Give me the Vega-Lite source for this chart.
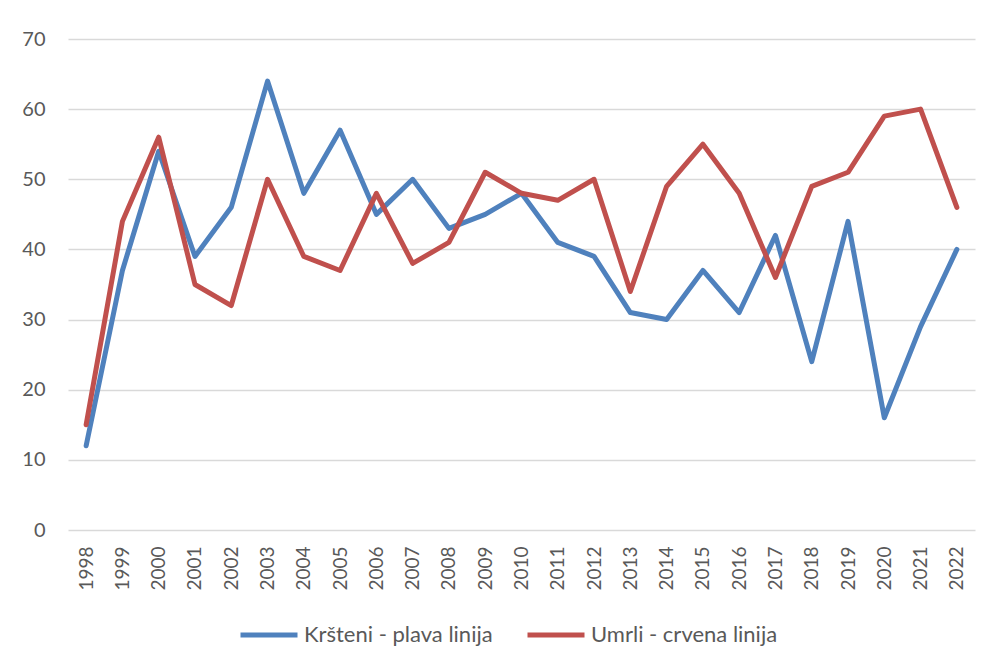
{
  "$schema": "https://vega.github.io/schema/vega-lite/v6.json",
  "autosize": "none",
  "width": 907,
  "height": 491,
  "padding": {"left": 68, "top": 39, "right": 12, "bottom": 135},
  "background": "white",
  "config": {
    "view": {"stroke": null},
    "font": "Lato"
  },
  "data": {
    "values": [
      {"year": "1998", "series": "Kršteni - plava linija", "value": 12},
      {"year": "1999", "series": "Kršteni - plava linija", "value": 37},
      {"year": "2000", "series": "Kršteni - plava linija", "value": 54},
      {"year": "2001", "series": "Kršteni - plava linija", "value": 39},
      {"year": "2002", "series": "Kršteni - plava linija", "value": 46},
      {"year": "2003", "series": "Kršteni - plava linija", "value": 64},
      {"year": "2004", "series": "Kršteni - plava linija", "value": 48},
      {"year": "2005", "series": "Kršteni - plava linija", "value": 57},
      {"year": "2006", "series": "Kršteni - plava linija", "value": 45},
      {"year": "2007", "series": "Kršteni - plava linija", "value": 50},
      {"year": "2008", "series": "Kršteni - plava linija", "value": 43},
      {"year": "2009", "series": "Kršteni - plava linija", "value": 45},
      {"year": "2010", "series": "Kršteni - plava linija", "value": 48},
      {"year": "2011", "series": "Kršteni - plava linija", "value": 41},
      {"year": "2012", "series": "Kršteni - plava linija", "value": 39},
      {"year": "2013", "series": "Kršteni - plava linija", "value": 31},
      {"year": "2014", "series": "Kršteni - plava linija", "value": 30},
      {"year": "2015", "series": "Kršteni - plava linija", "value": 37},
      {"year": "2016", "series": "Kršteni - plava linija", "value": 31},
      {"year": "2017", "series": "Kršteni - plava linija", "value": 42},
      {"year": "2018", "series": "Kršteni - plava linija", "value": 24},
      {"year": "2019", "series": "Kršteni - plava linija", "value": 44},
      {"year": "2020", "series": "Kršteni - plava linija", "value": 16},
      {"year": "2021", "series": "Kršteni - plava linija", "value": 29},
      {"year": "2022", "series": "Kršteni - plava linija", "value": 40},
      {"year": "1998", "series": "Umrli - crvena linija", "value": 15},
      {"year": "1999", "series": "Umrli - crvena linija", "value": 44},
      {"year": "2000", "series": "Umrli - crvena linija", "value": 56},
      {"year": "2001", "series": "Umrli - crvena linija", "value": 35},
      {"year": "2002", "series": "Umrli - crvena linija", "value": 32},
      {"year": "2003", "series": "Umrli - crvena linija", "value": 50},
      {"year": "2004", "series": "Umrli - crvena linija", "value": 39},
      {"year": "2005", "series": "Umrli - crvena linija", "value": 37},
      {"year": "2006", "series": "Umrli - crvena linija", "value": 48},
      {"year": "2007", "series": "Umrli - crvena linija", "value": 38},
      {"year": "2008", "series": "Umrli - crvena linija", "value": 41},
      {"year": "2009", "series": "Umrli - crvena linija", "value": 51},
      {"year": "2010", "series": "Umrli - crvena linija", "value": 48},
      {"year": "2011", "series": "Umrli - crvena linija", "value": 47},
      {"year": "2012", "series": "Umrli - crvena linija", "value": 50},
      {"year": "2013", "series": "Umrli - crvena linija", "value": 34},
      {"year": "2014", "series": "Umrli - crvena linija", "value": 49},
      {"year": "2015", "series": "Umrli - crvena linija", "value": 55},
      {"year": "2016", "series": "Umrli - crvena linija", "value": 48},
      {"year": "2017", "series": "Umrli - crvena linija", "value": 36},
      {"year": "2018", "series": "Umrli - crvena linija", "value": 49},
      {"year": "2019", "series": "Umrli - crvena linija", "value": 51},
      {"year": "2020", "series": "Umrli - crvena linija", "value": 59},
      {"year": "2021", "series": "Umrli - crvena linija", "value": 60},
      {"year": "2022", "series": "Umrli - crvena linija", "value": 46}
    ]
  },
  "mark": {"type": "line", "strokeWidth": 5, "strokeCap": "round", "strokeJoin": "round"},
  "encoding": {
    "x": {
      "field": "year",
      "type": "ordinal",
      "scale": {"type": "point", "padding": 0.5},
      "axis": {
        "title": null,
        "labelAngle": -90,
        "labelAlign": "right",
        "labelBaseline": "middle",
        "labelFontSize": 19,
        "labelColor": "#595959",
        "labelPadding": 16,
        "ticks": false,
        "domain": false,
        "grid": false
      }
    },
    "y": {
      "field": "value",
      "type": "quantitative",
      "scale": {"domain": [0, 70], "nice": false},
      "axis": {
        "title": null,
        "values": [0, 10, 20, 30, 40, 50, 60, 70],
        "labelFontSize": 20,
        "labelColor": "#595959",
        "labelPadding": 23,
        "ticks": false,
        "domain": false,
        "grid": true,
        "gridColor": "#d9d9d9",
        "gridWidth": 1.5
      }
    },
    "color": {
      "field": "series",
      "type": "nominal",
      "scale": {
        "domain": ["Kršteni - plava linija", "Umrli - crvena linija"],
        "range": ["#4f81bd", "#c0504d"]
      },
      "legend": {
        "title": null,
        "orient": "none",
        "direction": "horizontal",
        "legendX": 170,
        "legendY": 565,
        "symbolType": "stroke",
        "symbolSize": 3249,
        "symbolStrokeWidth": 5,
        "labelFontSize": 22,
        "labelColor": "#595959",
        "labelOffset": 4,
        "columnPadding": 24,
        "labelLimit": 400
      }
    }
  }
}
